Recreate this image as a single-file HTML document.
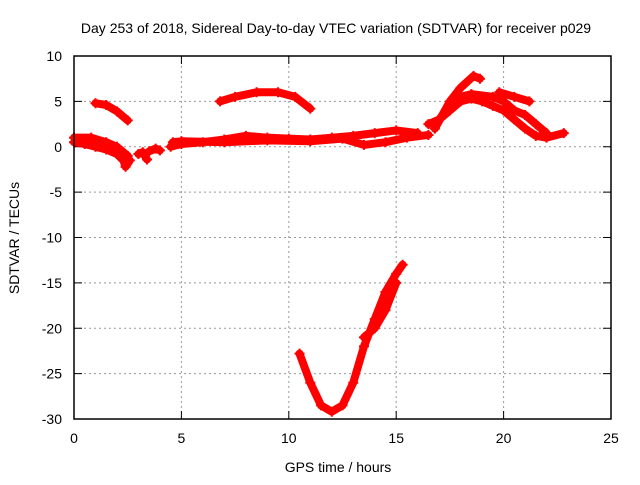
<!DOCTYPE html>
<html><head><meta charset="utf-8"><style>
body{margin:0;background:#fff}
text{font-family:"Liberation Sans",sans-serif;font-size:14px;fill:#000}
</style></head><body>
<svg id="c" width="640" height="480">
<text x="336" y="33" text-anchor="middle">Day 253 of 2018, Sidereal Day-to-day VTEC variation (SDTVAR) for receiver p029</text>
<text x="338" y="472" text-anchor="middle">GPS time / hours</text>
<text transform="translate(19,238) rotate(-90)" text-anchor="middle">SDTVAR / TECUs</text>
<g id="grid"></g><g id="marks"></g>
<rect x="74" y="56" width="537" height="363" fill="none" stroke="#000" stroke-width="1.5"/>
</svg>
<script>
const xTicks=[0,5,10,15,20,25];
const yTicks=[10,5,0,-5,-10,-15,-20,-25,-30];
const track1=[[0,0.5],[0.5,0.3],[1,0],[1.5,-0.3],[2,-0.8],[2.3,-1.5],[2.4,-2.2],[2.6,-1.5]];
const track2=[[0,1],[0.8,1],[1.5,0.5],[2,0],[2.5,-1]];
const track3=[[1,4.8],[1.5,4.6],[2,3.9],[2.5,2.9]];
const track4=[[3,-0.8],[3.2,-0.6],[3.4,-1.4]];
const track5=[[3.5,-0.5],[3.8,-0.2],[4,-0.4]];
const track6=[[4.5,0],[5,0.3],[6,0.5],[7,0.8],[8,1.2],[9,1],[10,0.9],[11,0.8],[12,1],[13,1.2],[14,1.5],[15,1.8],[16,1.5]];
const track7=[[4.6,0.5],[5,0.6],[7,0.5],[9,0.7],[11,0.6],[12.5,0.9],[13.5,0.2],[14.5,0.5],[15.5,1],[16.5,1.3]];
const track8=[[6.8,5],[7.5,5.5],[8.5,6],[9.5,6],[10.3,5.5],[11,4.2]];
const track9=[[10.5,-22.8],[11,-26],[11.5,-28.5],[12,-29.2],[12.5,-28.5],[13,-26],[13.5,-22],[14,-19],[14.5,-16],[15,-14],[15.3,-13]];
const track10=[[13.5,-21],[14,-20],[14.5,-18],[15,-15]];
const track11=[[16.5,2.5],[17,3],[17.5,4],[18,5],[18.5,5.3],[19,5],[19.5,4.5],[20,4],[20.5,3],[21,2],[21.5,1.2],[22,1],[22.8,1.5]];
const track12=[[16.8,2],[17.5,5],[18,6.5],[18.6,7.8],[18.9,7.5]];
const track13=[[17,3],[17.5,4.5],[18,5.5],[18.5,5.8],[19.5,5.5],[20,5],[20.5,4],[21,3.5],[21.5,2.5],[22,1.5]];
const track14=[[19.8,6],[20.5,5.5],[21.2,5]];
const tracks=[track1,track2,track3,track4,track5,track6,track7,track8,track9,track10,track11,track12,track13,track14];
const X=v=>74+v*537/25, Y=v=>56+(10-v)*363/40;
const NS="http://www.w3.org/2000/svg";
const grid=document.getElementById('grid'), marks=document.getElementById('marks');
function mk(tag,a,p){const e=document.createElementNS(NS,tag);for(const k in a)e.setAttribute(k,a[k]);p.appendChild(e);return e;}
xTicks.forEach(t=>{
 if(t>0&&t<25){const l=mk('line',{x1:X(t),x2:X(t),y1:56,y2:419,stroke:'#999','stroke-dasharray':'2,3'},grid);
 
 }
 mk('line',{x1:X(t),x2:X(t),y1:419,y2:411,stroke:'#000'},grid);
 mk('line',{x1:X(t),x2:X(t),y1:56,y2:64,stroke:'#000'},grid);
 const tx=mk('text',{x:X(t),y:443,'text-anchor':'middle'},grid);tx.textContent=t;
 
 
});
yTicks.forEach(t=>{
 if(t<10&&t>-30){const l=mk('line',{x1:74,x2:611,y1:Y(t),y2:Y(t),stroke:'#999','stroke-dasharray':'2,3'},grid);
 
 }
 mk('line',{x1:74,x2:82,y1:Y(t),y2:Y(t),stroke:'#000'},grid);
 mk('line',{x1:603,x2:611,y1:Y(t),y2:Y(t),stroke:'#000'},grid);
 const tx=mk('text',{x:62,y:Y(t)+5,'text-anchor':'end'},grid);tx.textContent=t;
 
 
});
tracks.forEach((tr,i)=>{
 const p=mk('polyline',{points:tr.map(d=>X(d[0])+','+Y(d[1])).join(' '),fill:'none',stroke:'#f00','stroke-width':8,'stroke-linejoin':'round','stroke-linecap':'round'},marks);
 
 
 tr.forEach(d=>{
  const m=mk('path',{d:`M${X(d[0])-5},${Y(d[1])}h10M${X(d[0])},${Y(d[1])-5}v10`,stroke:'#f00','stroke-width':2},marks);
  
  
 });
});
</script>
</body></html>
